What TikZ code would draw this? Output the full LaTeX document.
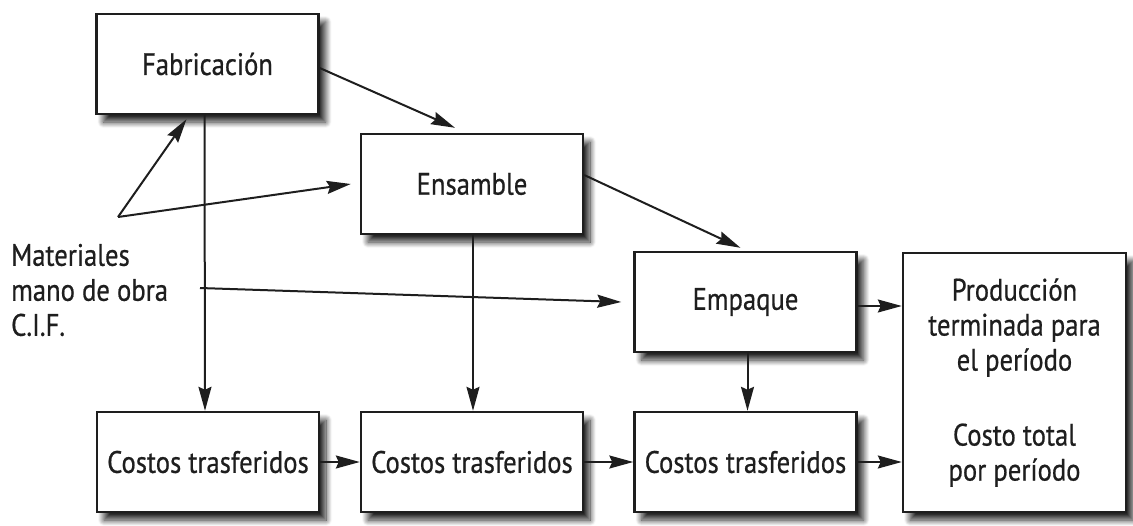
\documentclass[tikz,border=0pt]{standalone}
\usepackage{fontspec}
\setmainfont{PT Sans}[FakeStretch=0.86, FakeBold=0.6]
\usetikzlibrary{arrows.meta,shadows.blur}
\definecolor{ink}{HTML}{1E1E1E}
\tikzset{
  boxnode/.style={draw=ink, line width=2.4pt, fill=white, inner sep=0pt,
    minimum width=222pt, minimum height=100pt, align=center, text=ink,
    font=\fontsize{31}{35}\selectfont,
    blur shadow={shadow xshift=7pt, shadow yshift=-8pt, shadow blur radius=6pt,
      shadow blur steps=12, shadow opacity=85}},
  arr/.style={draw=ink, line width=2pt, -{Stealth[length=24pt, width=13pt, inset=3pt]}},
  lbl/.style={inner sep=0pt, align=left, text=ink, font=\fontsize{31}{35}\selectfont}
}
\begin{document}
\begin{tikzpicture}[x=1pt, y=-1pt]
\useasboundingbox (0,0) rectangle (1133,525);
\node[boxnode] (fab) at (207.5,64) {Fabricación};
\node[boxnode] (ens) at (472,184) {Ensamble};
\node[boxnode] (emp) at (745.5,302) {Empaque};
\node[boxnode, minimum width=223pt, minimum height=259pt] (prod) at (1014.5,382.5)
  {Producción\\terminada para\\el período\\[40pt]Costo total\\por período};
\node[boxnode] (c1) at (208,462) {Costos trasferidos};
\node[boxnode] (c2) at (472,462) {Costos trasferidos};
\node[boxnode] (c3) at (745.5,462) {Costos trasferidos};
\node[lbl, anchor=west] (mat) at (11,290) {Materiales\\mano de obra\\C.I.F.};
\coordinate (m) at (118,217);
\coordinate (mo) at (200,288);
% top flow
\draw[arr] ([yshift=-4pt]fab.east) -- ([xshift=-17pt,yshift=5pt]ens.north);
\draw[arr] ([yshift=9pt]ens.east) -- ([xshift=-5pt,yshift=3pt]emp.north);
\draw[arr] ([yshift=-4pt]emp.east) -- ([yshift=-4pt]emp.east -| prod.west);
% inputs
\draw[arr] (m) -- ([xshift=-21pt,yshift=-4pt]fab.south);
\draw[arr] (m) -- ([xshift=-9pt]ens.west);
\draw[arr] (mo) -- ([xshift=-12pt]emp.west);
% vertical transfers
\draw[arr] ([xshift=-3pt]fab.south) -- ([xshift=-3pt]c1.north);
\draw[arr] ([xshift=1pt]ens.south) -- ([xshift=1pt]c2.north);
\draw[arr] ([xshift=2pt]emp.south) -- ([xshift=2pt]c3.north);
% bottom flow
\draw[arr] (c1.east) -- (c2.west);
\draw[arr] (c2.east) -- (c3.west);
\draw[arr] (c3.east) -- (c3.east -| prod.west);
\end{tikzpicture}
\end{document}
